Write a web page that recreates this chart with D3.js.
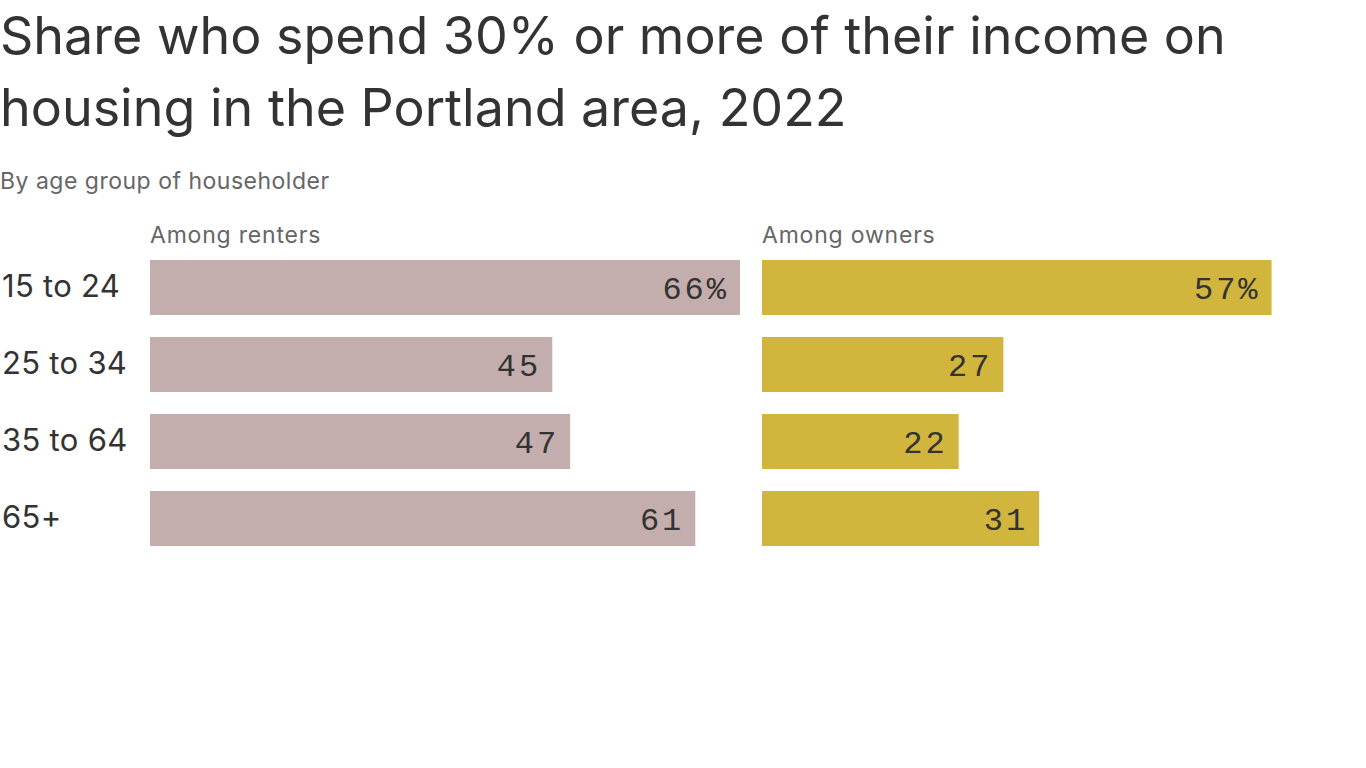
<!DOCTYPE html>
<html>
<head>
<meta charset="utf-8">
<script src="https://cdn.jsdelivr.net/npm/d3@7"></script>
<style>
  body { margin: 0; background: #fff; }
  svg { display: block; }
</style>
</head>
<body>
<div id="chart"></div>
<script>
var ageGroups = ["15 to 24", "25 to 34", "35 to 64", "65+"];
var renters = [66, 45, 47, 61];
var owners = [57, 27, 22, 31];
var panelTitles = ["Among renters", "Among owners"];
var panelColors = ["#c4adad", "#d1b53c"];

var width = 1366, height = 768;

var svg = d3.select("#chart")
    .append("svg")
    .attr("width", width)
    .attr("height", height);

// title + subtitle
var title = svg.append("text")
    .attr("x", 0)
    .attr("font-family", "Inter, sans-serif")
    .attr("font-size", 52)
    .attr("fill", "#333");
title.append("tspan").attr("x", 0).attr("y", 54)
    .text("Share who spend 30% or more of their income on");
title.append("tspan").attr("x", 0).attr("y", 126)
    .text("housing in the Portland area, 2022");

svg.append("text")
    .attr("x", 0)
    .attr("y", 189)
    .attr("font-family", "Inter, sans-serif")
    .attr("font-size", 23)
    .attr("fill", "#666")
    .attr("letter-spacing", 0.5)
    .text("By age group of householder");

// shared value scale for both panels
var x = d3.scaleLinear()
    .domain([0, 66])
    .range([0, 590]);

var y = d3.scaleBand()
    .domain(ageGroups)
    .range([260, 260 + 77 * 4 - 22])
    .paddingInner(22 / 77)
    .paddingOuter(0);

var panelX = [150, 762];
var series = [renters, owners];

// category labels
svg.append("g").selectAll("text")
    .data(ageGroups)
    .enter().append("text")
    .attr("x", 2)
    .attr("y", function (d) { return y(d) + y.bandwidth() / 2 + 9; })
    .attr("font-family", "Inter, sans-serif")
    .attr("font-size", 31)
    .attr("fill", "#333")
    .attr("letter-spacing", 0.3)
    .text(function (d) { return d; });

series.forEach(function (vals, p) {
    var g = svg.append("g")
        .attr("transform", "translate(" + panelX[p] + ",0)");

    g.append("text")
        .attr("x", 0)
        .attr("y", 243)
        .attr("font-family", "Inter, sans-serif")
        .attr("font-size", 23)
        .attr("fill", "#666")
        .attr("letter-spacing", 0.8)
        .text(panelTitles[p]);

    var rows = ageGroups.map(function (a, i) { return {age: a, v: vals[i], i: i}; });

    g.selectAll(".bar")
        .data(rows)
        .enter().append("rect")
        .attr("class", "bar")
        .attr("x", x(0))
        .attr("y", function (d) { return y(d.age); })
        .attr("width", function (d) { return x(d.v); })
        .attr("height", y.bandwidth())
        .attr("fill", panelColors[p]);

    g.selectAll(".val")
        .data(rows)
        .enter().append("text")
        .attr("class", "val")
        .attr("x", function (d) { return x(d.v) - 11; })
        .attr("y", function (d) { return y(d.age) + y.bandwidth() / 2 + 11; })
        .attr("text-anchor", "end")
        .attr("font-family", "'Liberation Mono', monospace")
        .attr("font-size", 32)
        .attr("letter-spacing", 3)
        .attr("fill", "#333")
        .text(function (d) { return d.i === 0 ? d.v + "%" : d.v; });
});
</script>
</body>
</html>
